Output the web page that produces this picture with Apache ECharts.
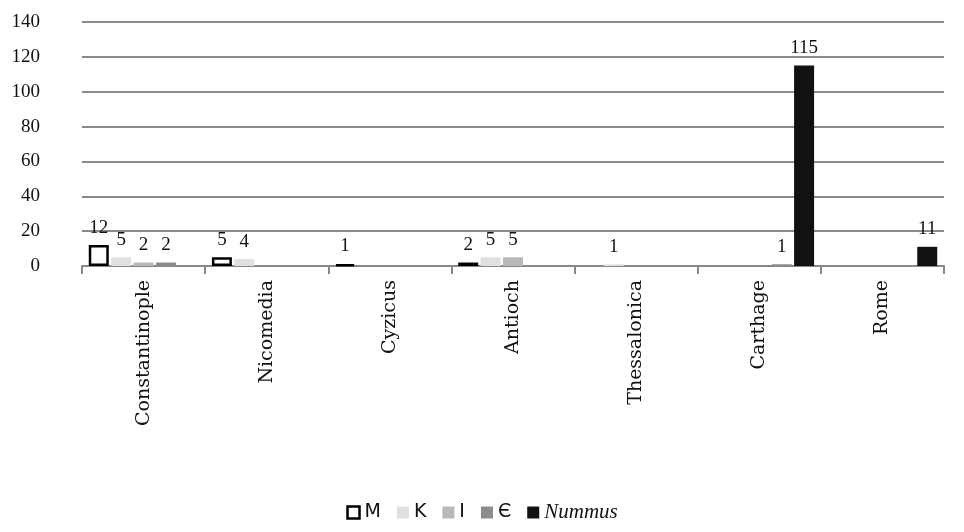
<!DOCTYPE html><html><head><meta charset="utf-8"><script src="https://cdn.jsdelivr.net/npm/echarts@6/dist/echarts.min.js"></script></head><body style="margin:0"><div id="c" style="width:964px;height:532px"></div><script>
const categories=['Constantinople','Nicomedia','Cyzicus','Antioch','Thessalonica','Carthage','Rome'];
const seriesNames=['M','K','I','Є','Nummus'];
const M=[12,5,1,2,null,null,null];
const K=[5,4,null,5,1,null,null];
const I=[2,null,null,5,null,null,null];
const E=[2,null,null,null,null,1,null];
const N=[null,null,null,null,null,115,11];
const data=[M,K,I,E,N];
const colors=['#ffffff','#e0e0e0','#b8b8b8','#8c8c8c','#111111'];
const font='Liberation Serif';
const series=data.map((d,i)=>({name:seriesNames[i],type:'bar',data:d,barWidth:20,barGap:'12%',
itemStyle:{color:colors[i],borderColor:i==0?'#000':colors[i],borderWidth:i==0?2.5:0},
label:{show:true,position:'top',color:'#111',fontFamily:font,fontSize:19,distance:8}}));
const ch=echarts.init(document.getElementById('c'));
ch.setOption({animation:false,
grid:{left:82,right:20,top:22,bottom:266},
legend:{bottom:4,left:'center',icon:'rect',itemWidth:12,itemHeight:12,itemGap:16,
textStyle:{fontFamily:'DejaVu Sans',fontSize:19,color:'#111',rich:{i:{fontFamily:font,fontStyle:'italic',fontSize:21}}},
formatter:n=>n==='Nummus'?'{i|'+n+'}':n,
data:seriesNames.map((n,i)=>({name:n,itemStyle:{color:colors[i],borderColor:i==0?'#000':colors[i],borderWidth:i==0?2.5:0}}))},
xAxis:{type:'category',data:categories,axisLine:{lineStyle:{color:'#888',width:2}},axisTick:{show:true,length:8,lineStyle:{color:'#888',width:2}},
axisLabel:{rotate:90,fontFamily:'DejaVu Serif',fontSize:19,color:'#111',margin:14}},
yAxis:{type:'value',min:0,max:140,interval:20,axisLine:{show:false},axisTick:{show:false},
splitLine:{lineStyle:{color:'#8a8a8a',width:2}},axisLabel:{fontFamily:font,fontSize:19,color:'#111',margin:42}},
series});
</script></body></html>
